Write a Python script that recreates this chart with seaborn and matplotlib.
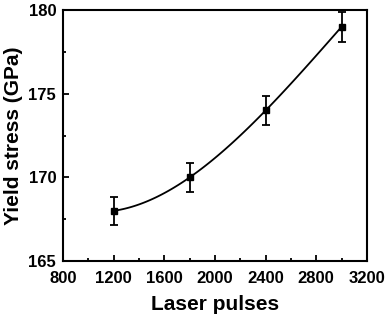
import numpy as np
import matplotlib.pyplot as plt
import seaborn as sns
from matplotlib.ticker import MultipleLocator

sns.set_style("ticks")
plt.rcParams['font.family'] = ['Liberation Sans', 'DejaVu Sans']
plt.rcParams['font.weight'] = 'bold'
plt.rcParams['text.color'] = 'black'
plt.rcParams['axes.labelcolor'] = 'black'
plt.rcParams['xtick.color'] = 'black'
plt.rcParams['ytick.color'] = 'black'

# Data
pulses = [1200, 1800, 2400, 3000]
stress = [168.0, 170.0, 174.0, 179.0]
stress_err = [0.85, 0.85, 0.85, 0.9]

fig = plt.figure(figsize=(3.87, 3.16), dpi=100)
ax = fig.add_axes([0.163, 0.174, 0.785, 0.794])

# smooth fit through the points
sns.regplot(x=pulses, y=stress, order=3, ci=None, scatter=False,
            line_kws={'color': 'black', 'lw': 1.3}, ax=ax)
ax.errorbar(pulses, stress, yerr=stress_err, fmt='s', color='black',
            ms=4.5, elinewidth=1.3, capsize=3, capthick=1.3)

ax.set_xlim(800, 3200)
ax.set_ylim(165, 180)
ax.xaxis.set_major_locator(MultipleLocator(400))
ax.xaxis.set_minor_locator(MultipleLocator(200))
ax.yaxis.set_major_locator(MultipleLocator(5))
ax.yaxis.set_minor_locator(MultipleLocator(2.5))
ax.tick_params(which='both', direction='in', labelsize=12, width=1.3,
               color='black', labelcolor='black')
ax.tick_params(which='major', length=4.5)
ax.tick_params(which='minor', length=2.5)
ax.tick_params(axis='x', which='major', pad=7)
ax.tick_params(axis='y', which='major', pad=5)
for s in ax.spines.values():
    s.set_linewidth(1.5)
    s.set_color('black')

ax.set_xlabel("Laser pulses", fontsize=15, fontweight='bold', labelpad=7, color='black')
ax.set_ylabel("Yield stress (GPa)", fontsize=15, fontweight='bold', labelpad=4, color='black')

plt.savefig("out.png", dpi=100)
